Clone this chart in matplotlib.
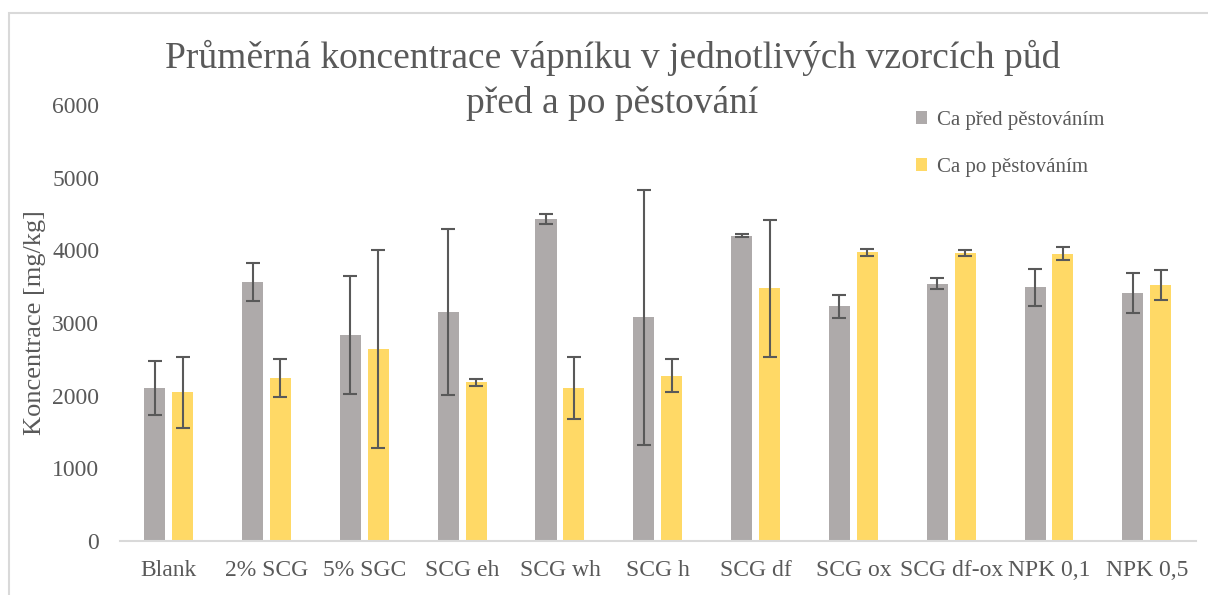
import matplotlib.pyplot as plt
import numpy as np
from matplotlib.patches import Rectangle

# data
vzorky = ["Blank", "2% SCG", "5% SGC", "SCG eh", "SCG wh", "SCG h",
          "SCG df", "SCG ox", "SCG df-ox", "NPK 0,1", "NPK 0,5"]
ca_pred = [2110, 3568, 2835, 3147, 4427, 3078, 4202, 3229, 3541, 3491, 3413]
ca_pred_err = [370, 260, 812, 1142, 70, 1755, 20, 155, 75, 255, 278]
ca_po = [2046, 2243, 2638, 2184, 2105, 2275, 3477, 3972, 3963, 3954, 3525]
ca_po_err = [490, 260, 1365, 45, 422, 230, 945, 50, 35, 90, 210]
nadpis = ["Průměrná koncentrace vápníku v jednotlivých vzorcích půd",
          "před a po pěstování"]

plt.rcParams['font.family'] = ['Liberation Serif', 'DejaVu Serif']
text_col = '#595959'

fig = plt.figure(figsize=(12.08, 5.95), dpi=100)
ax = fig.add_axes([120/1208, 1 - 541/595, (1196-120)/1208, (541-105)/595])

x = np.arange(len(vzorky))
w = 0.215
ax.bar(x - 0.145, ca_pred, w, color='#AEAAAA', label='Ca před pěstováním',
       yerr=ca_pred_err, error_kw=dict(ecolor='#595959', elinewidth=1.5, capsize=5, capthick=1.5))
ax.bar(x + 0.14, ca_po, w, color='#FFD966', label='Ca po pěstováním',
       yerr=ca_po_err, error_kw=dict(ecolor='#595959', elinewidth=1.5, capsize=5, capthick=1.5))

ax.set_xlim(-0.5, len(vzorky) - 0.5)
ax.set_ylim(0, 6000)
ax.set_yticks(np.arange(0, 6001, 1000))
ax.set_xticks(x)
ax.set_xticklabels(vzorky)
ax.tick_params(axis='x', length=0, labelsize=17, colors=text_col, pad=14)
ax.tick_params(axis='y', length=0, labelsize=17, colors=text_col, pad=15)
for s in ['top', 'right', 'left']:
    ax.spines[s].set_visible(False)
ax.spines['bottom'].set_color('#D9D9D9')
ax.spines['bottom'].set_linewidth(1.5)

ax.set_ylabel("Koncentrace [mg/kg]", fontsize=19, color=text_col, labelpad=4)

# nadpis ve dvou radcich
fig.text(0.507, 1 - 58/595, nadpis[0], ha='center', va='center', fontsize=27, color=text_col)
fig.text(0.507, 1 - 103/595, nadpis[1], ha='center', va='center', fontsize=27, color=text_col)

ax.legend(loc='upper left', bbox_to_anchor=(0.722, 1.03), frameon=False, fontsize=15,
          labelcolor=text_col, handlelength=0.55, handleheight=0.55, handletextpad=0.5,
          labelspacing=1.35)

fig.patches.append(Rectangle((9/1208, -0.1), 1.2, 1 - 13/595 + 0.1, transform=fig.transFigure,
                             fill=False, edgecolor='#D9D9D9', linewidth=1.5))

fig.savefig("out.png", dpi=100)
